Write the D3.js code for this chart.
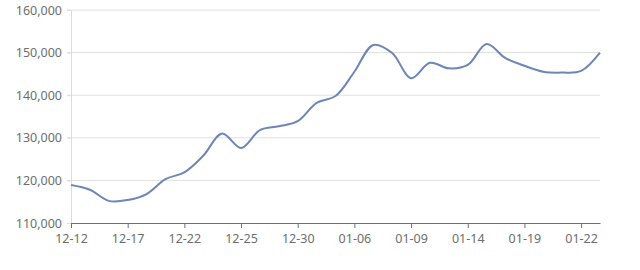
<!DOCTYPE html>
<html>
<head>
<meta charset="utf-8">
<script src="https://cdn.jsdelivr.net/npm/d3@7"></script>
<style>
  body { margin: 0; background: #fff; }
  #chart text { font-family: "Noto Sans", sans-serif; }
</style>
</head>
<body>
<div id="chart"></div>
<script>
const width = 640, height = 270;
const margins = { top: 10, right: 40, bottom: 47, left: 71 };

// trading days (only every 3rd one is labelled)
const dates = ["12-12", "12-13", "12-15", "12-17", "12-19", "12-20", "12-22", "12-23", "12-24", "12-25",
    "12-27", "12-29", "12-30", "01-03", "01-05", "01-06", "01-07", "01-08", "01-09", "01-11",
    "01-13", "01-14", "01-16", "01-18", "01-19", "01-20", "01-21", "01-22", "01-23"];
const values = [118900, 117800, 115200, 115400, 116800, 120300, 121900, 125800, 131000, 127600,
    131800, 132700, 133900, 138200, 139800, 145500, 151800, 149900, 144000, 147600,
    146300, 147100, 152000, 148700, 146900, 145500, 145300, 145700, 150000];
const yTicks = [110000, 120000, 130000, 140000, 150000, 160000];

const svg = d3.select("#chart")
    .append("svg")
    .attr("width", width)
    .attr("height", height);

const x = d3.scalePoint()
    .domain(dates)
    .range([margins.left, width - margins.right]);

const y = d3.scaleLinear()
    .domain([110000, 160000])
    .range([height - margins.bottom, margins.top]);

// grid lines
svg.append("g")
    .selectAll("line")
    .data(yTicks.slice(1))
    .join("line")
    .attr("x1", margins.left - 4)
    .attr("x2", width - margins.right)
    .attr("y1", d => y(d))
    .attr("y2", d => y(d))
    .attr("stroke", "#e0e0e0");

// y axis
const yAxis = svg.append("g")
    .attr("transform", `translate(${margins.left},0)`)
    .call(d3.axisLeft(y).tickValues(yTicks).tickSize(4).tickPadding(5).tickFormat(d3.format(",")));
yAxis.select(".domain").attr("stroke", "#dcdcdc");
yAxis.selectAll(".tick line").attr("stroke", "#dcdcdc");
yAxis.selectAll(".tick text").attr("fill", "#6e6e6e").style("font-size", "12.5px");

// x axis
const labelled = dates.filter((d, i) => i % 3 === 0);
const xAxis = svg.append("g")
    .attr("transform", `translate(0,${height - margins.bottom})`)
    .call(d3.axisBottom(x).tickValues(labelled).tickSize(5).tickSizeOuter(0).tickPadding(6.5));
xAxis.select(".domain").attr("stroke", "#6e7079");
xAxis.selectAll(".tick line").attr("stroke", "#6e7079");
xAxis.selectAll(".tick text").attr("fill", "#6e6e6e").style("font-size", "12.5px");

// the line
const line = d3.line()
    .x((d, i) => x(dates[i]))
    .y(d => y(d))
    .curve(d3.curveCatmullRom.alpha(0.5));

svg.append("path")
    .datum(values)
    .attr("d", line)
    .attr("fill", "none")
    .attr("stroke", "#6e86b6")
    .attr("stroke-width", 2);
</script>
</body>
</html>
